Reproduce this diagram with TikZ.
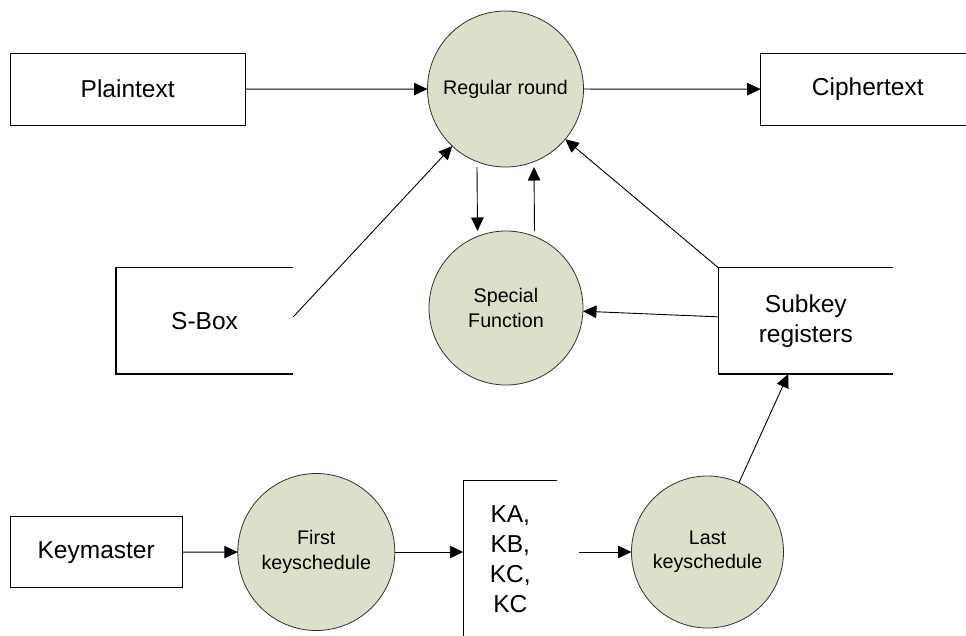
\documentclass[tikz,border=0pt]{standalone}
\usepackage{fontspec}
\setmainfont{Liberation Sans}
\usetikzlibrary{arrows.meta}
\definecolor{bubble}{RGB}{221,223,202}
\definecolor{rim}{RGB}{50,50,50}
\tikzset{
  boxtext/.style={font=\fontsize{24.5}{30}\selectfont, align=center, inner sep=0pt, outer sep=0pt},
  framebox/.style={boxtext, draw=black, line width=1.1pt},
  bubblenode/.style={circle, draw=rim, fill=bubble, line width=0.8pt, inner sep=0pt, outer sep=0pt,
     font=\fontsize{19.7}{24.3}\selectfont, align=center},
  arr/.style={line width=0.9pt, -{Triangle[length=13.5pt,width=12.5pt]}},
  openline/.style={line width=1.1pt},
}
\begin{document}
\begin{tikzpicture}[x=1pt,y=-1pt]
\clip (0,0) rectangle (966,635);
\fill[white] (0,0) rectangle (966,635);

% boxes
\node[framebox, minimum width=234.7pt, minimum height=71.7pt] (plain) at (127.7,89.2) {Plaintext};
\node[framebox, minimum width=214.3pt, minimum height=71.7pt] (cipher) at (867.8,89.2) {Ciphertext};
\node[framebox, minimum width=171.7pt, minimum height=71pt] (km) at (96.2,552.2) {Keymaster};

% open stores
\node[boxtext, minimum width=177.3pt, minimum height=106.3pt] (sbox) at (204.6,320.85) {S-Box};
\draw[openline] (sbox.north east) -- (sbox.north west) -- (sbox.south west) -- (sbox.south east);
\node[boxtext, minimum width=175pt, minimum height=106.3pt] (sk) at (805.8,320.85) {Subkey\\registers};
\draw[openline] (sk.north east) -- (sk.north west) -- (sk.south west) -- (sk.south east);
\node[boxtext, minimum width=94pt, minimum height=157.6pt] (ka) at (510.3,559.5) {KA,\\KB,\\KC,\\KC};
\draw[openline] (ka.north east) -- (ka.north west) -- (ka.south west);

% processes
\node[bubblenode, minimum size=156pt] (rr) at (505.5,89) {Regular round};
\node[bubblenode, minimum size=154pt] (sf) at (506,308) {Special\\Function};
\node[bubblenode, minimum size=157pt] (fk) at (316.3,552) {First\\keyschedule};
\node[bubblenode, minimum size=152pt] (lk) at (707.5,552) {Last\\keyschedule};

\coordinate (kaout) at (579.3,552);

% connectors
\draw[arr] (plain) -- (rr);
\draw[arr] (rr) -- (cipher);
\draw[arr] ([yshift=4pt]sbox.east) -- (rr);
\draw[arr] (sk.north west) -- (rr);
\draw[arr] ([yshift=4pt]sk.west) -- (sf);
\draw[arr] ([xshift=-28.5pt]rr.south) -- ([xshift=-28.5pt]sf.north);
\draw[arr] ([xshift=28.5pt]sf.north) -- ([xshift=28.5pt]rr.south);
\draw[arr] (km) -- (fk);
\draw[arr] (fk) -- (fk -| ka.west);
\draw[arr] (kaout) -- (lk);
\draw[arr] (lk) -- ([xshift=-17.5pt]sk.south);
\end{tikzpicture}
\end{document}
